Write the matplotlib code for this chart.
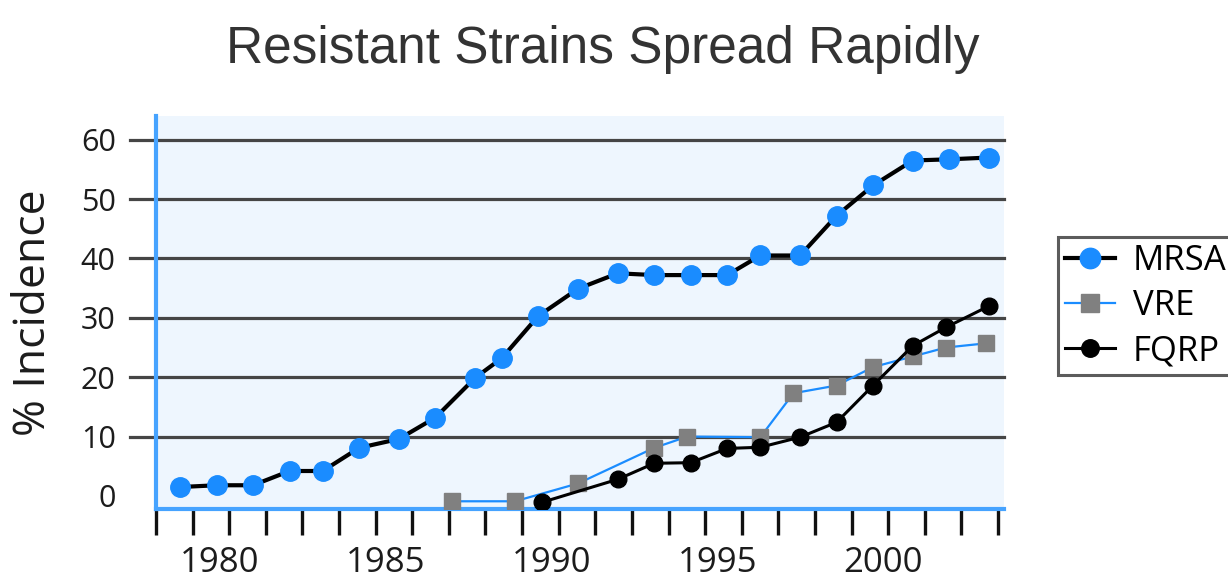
import numpy as np
import matplotlib
matplotlib.use("Agg")
import matplotlib.pyplot as plt
import matplotlib.transforms as mtransforms

# values (x in years, y in % incidence)
mrsa_years = [1978.8, 1979.9, 1981.0, 1982.1, 1983.1, 1984.2, 1985.4, 1986.5,
              1987.7, 1988.5, 1989.6, 1990.8, 1992.0, 1993.1, 1994.2, 1995.3,
              1996.3, 1997.5, 1998.6, 1999.7, 2000.9, 2002.0, 2003.2]
mrsa_vals = [1.5, 1.8, 1.8, 4.2, 4.2, 8.1, 9.6, 13.2, 19.9, 23.2, 30.3, 34.9,
             37.5, 37.2, 37.2, 37.2, 40.5, 40.5, 47.2, 52.3, 56.5, 56.7, 57.0]

vre_years = [1987.0, 1988.9, 1990.8, 1993.1, 1994.1, 1996.3, 1997.3, 1998.6,
             1999.7, 2000.9, 2001.9, 2003.1]
vre_vals = [-0.9, -0.9, 2.1, 8.1, 10.0, 9.9, 17.3, 18.6, 21.7, 23.5, 25.0, 25.7]

fqrp_years = [1989.7, 1992.0, 1993.1, 1994.2, 1995.3, 1996.3, 1997.5, 1998.6,
              1999.7, 2000.9, 2001.9, 2003.2]
fqrp_vals = [-1.1, 2.8, 5.5, 5.6, 8.0, 8.2, 9.9, 12.4, 18.6, 25.3, 28.4, 32.0]

year_labels = [1980, 1985, 1990, 1995, 2000]
y_labels = [0, 10, 20, 30, 40, 50, 60]

BLUE = "#1a8cff"
SPINE_BLUE = "#46a3ff"
GRAY = "#808080"
TXT = "#1c1c1c"

plt.rcParams["font.family"] = ["Open Sans", "DejaVu Sans"]

fig = plt.figure(figsize=(12.28, 5.79), dpi=100)
ax = fig.add_axes([0.127, 0.1209, 0.6906, 0.6788])
ax.set_facecolor("#eef6fe")
ax.set_xlim(1978.07, 2003.65)
ax.set_ylim(-2.2, 64)

# horizontal rules that also stick out left of the axis like ticks
trans = mtransforms.blended_transform_factory(ax.transAxes, ax.transData)
for v in y_labels[1:]:
    ax.plot([-0.031, 1.0], [v, v], transform=trans, color="#454545",
            linewidth=2.3, clip_on=False, zorder=1)

ax.plot(mrsa_years, mrsa_vals, "-o", color="black", linewidth=3,
        markerfacecolor=BLUE, markeredgecolor=BLUE, markersize=14,
        label="MRSA", zorder=4)
ax.plot(vre_years, vre_vals, "-s", color=BLUE, linewidth=1.6,
        markerfacecolor=GRAY, markeredgecolor=GRAY, markersize=12,
        label="VRE", zorder=3)
ax.plot(fqrp_years, fqrp_vals, "-o", color="black", linewidth=2.2,
        markerfacecolor="black", markeredgecolor="black", markersize=12,
        label="FQRP", zorder=3.5)

for s in ["top", "right"]:
    ax.spines[s].set_visible(False)
for s in ["left", "bottom"]:
    ax.spines[s].set_color(SPINE_BLUE)
    ax.spines[s].set_linewidth(3)

ax.set_yticks(y_labels)
ax.tick_params(axis="y", length=0, pad=29, labelsize=22, labelcolor=TXT)
ax.set_xticks(year_labels)
ax.set_xticks(np.linspace(1978.07, 2003.47, 24), minor=True)
ax.tick_params(axis="x", which="major", length=0, pad=27, labelsize=25,
               labelcolor=TXT)
ax.tick_params(axis="x", which="minor", length=19, width=2.4, color="#111111")

ax.set_ylabel("% Incidence", fontsize=32, color=TXT, labelpad=18)
fig.text(0.491, 1 - 63 / 579, "Resistant Strains Spread Rapidly", ha="center",
         va="baseline", fontsize=37, color="#333333",
         family=["Liberation Sans", "DejaVu Sans"])

leg = fig.legend(loc="upper left", bbox_to_anchor=(1058 / 1228, 1 - 237 / 579),
                 fontsize=25, frameon=True, fancybox=False, handlelength=1.45,
                 handletextpad=0.5, borderaxespad=0, labelspacing=0.32,
                 borderpad=0.2, markerscale=1.05)
leg.get_frame().set_edgecolor("#333333")
leg.get_frame().set_linewidth(2.2)

fig.savefig("out.png", dpi=100)
